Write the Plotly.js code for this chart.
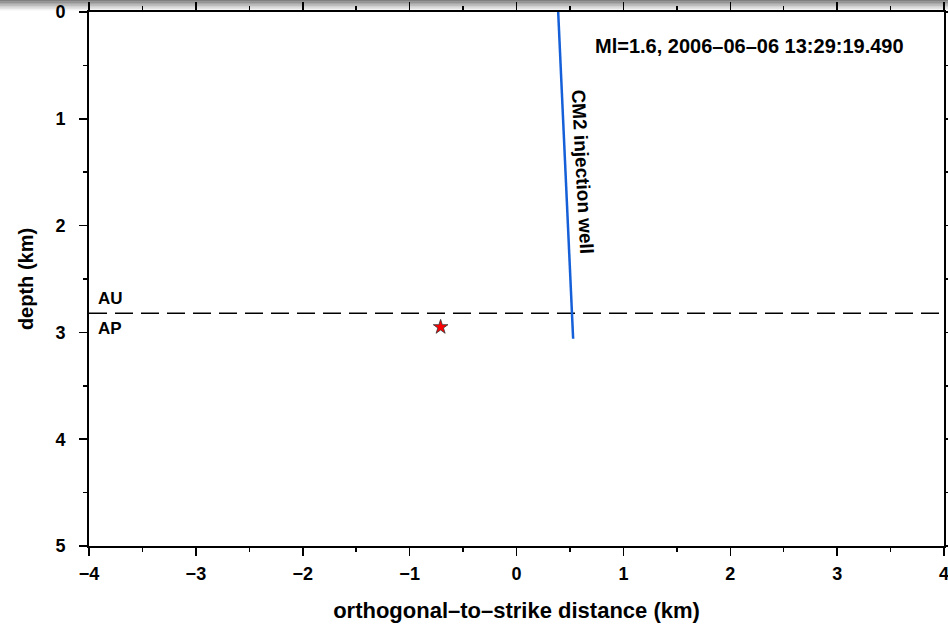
<!DOCTYPE html>
<html><head><meta charset="utf-8">
<script src="https://cdn.plot.ly/plotly-3.0.1.min.js"></script>
<style>html,body{margin:0;padding:0;background:#fff}</style>
</head><body><div id="c" style="width:948px;height:627px"></div>
<script>
const wellX = [0.39, 0.53];
const wellDepth = [0.0, 3.06];
const quakeX = [-0.71];
const quakeDepth = [2.95];
const boundaryX = [-4, 4];
const boundaryDepth = [2.82, 2.82];
const eventLabel = 'Ml=1.6, 2006\u201306\u201306 13:29:19.490';
const xTicks = [-4, -3, -2, -1, 0, 1, 2, 3, 4];
const yTicks = [0, 1, 2, 3, 4, 5];

const fam = 'Liberation Sans, Arial, sans-serif';
const traces = [
  {x: boundaryX, y: boundaryDepth, mode: 'lines', line: {color: '#000', width: 1.5, dash: '18px,8px'}, hoverinfo: 'skip'},
  {x: wellX, y: wellDepth, mode: 'lines', line: {color: '#1560d8', width: 2.5}},
  {x: quakeX, y: quakeDepth, mode: 'markers', marker: {symbol: 'star', size: 11, color: '#ff0000', line: {color: '#333', width: 0.8}}}
];
function bold(size) { return {family: fam, size: size, weight: 'bold', color: '#000'}; }
// top shading band (decoration), drawn as thin translucent strips in paper coordinates
const shapes = [];
const alphas = [0.5, 0.42, 0.34, 0.26, 0.18, 0.11, 0.05];
const plotH = 627 - 12 - 81;
for (let i = 0; i < alphas.length; i++) {
  shapes.push({type: 'rect', xref: 'paper', yref: 'paper', layer: 'above',
    x0: -89 / 855, x1: (948 - 89) / 855,
    y0: 1 + (12 - (i + 1) * 1.5) / plotH, y1: 1 + (12 - i * 1.5) / plotH,
    fillcolor: 'rgba(0,0,0,' + alphas[i] + ')', line: {width: 0}});
}
const layout = {
  width: 948, height: 627,
  margin: {l: 89, r: 4, t: 12, b: 81},
  paper_bgcolor: '#fff', plot_bgcolor: '#fff',
  showlegend: false,
  font: {family: fam, color: '#000'},
  shapes: shapes,
  xaxis: {range: [-4, 4], tickvals: xTicks, ticks: 'outside', ticklen: 8, tickwidth: 1.5, tickcolor: '#000',
    minor: {dtick: 0.5, ticks: 'outside', ticklen: 4, tickwidth: 1.5, tickcolor: '#000'},
    showline: true, linewidth: 2, linecolor: '#000', mirror: 'allticks', showgrid: false, zeroline: false,
    ticklabeloverflow: 'allow', ticklabelstandoff: 2,
    tickfont: bold(18),
    title: {text: 'orthogonal\u2013to\u2013strike distance (km)', standoff: 20, font: bold(22)}},
  yaxis: {range: [5, 0], tickvals: yTicks, ticks: 'outside', ticklen: 8, tickwidth: 1.5, tickcolor: '#000',
    minor: {dtick: 0.5, ticks: 'outside', ticklen: 4, tickwidth: 1.5, tickcolor: '#000'},
    showline: true, linewidth: 2, linecolor: '#000', mirror: 'allticks', showgrid: false, zeroline: false,
    ticklabeloverflow: 'allow', ticklabelstandoff: 10,
    tickfont: bold(18),
    title: {text: 'depth (km)', standoff: 16, font: bold(20)}},
  annotations: [
    {x: 2.18, y: 0.32, text: eventLabel, showarrow: false, xanchor: 'center', yanchor: 'middle',
      font: bold(20)},
    {x: 0.62, y: 1.50, text: 'CM2 injection well', showarrow: false, textangle: 87,
      xanchor: 'center', yanchor: 'middle', font: bold(19)},
    {x: -3.93, y: 2.68, text: 'AU', showarrow: false, xanchor: 'left', yanchor: 'middle', font: bold(17)},
    {x: -3.93, y: 2.96, text: 'AP', showarrow: false, xanchor: 'left', yanchor: 'middle', font: bold(17)}
  ]
};
Plotly.newPlot('c', traces, layout, {displayModeBar: false, staticPlot: true});
</script></body></html>
